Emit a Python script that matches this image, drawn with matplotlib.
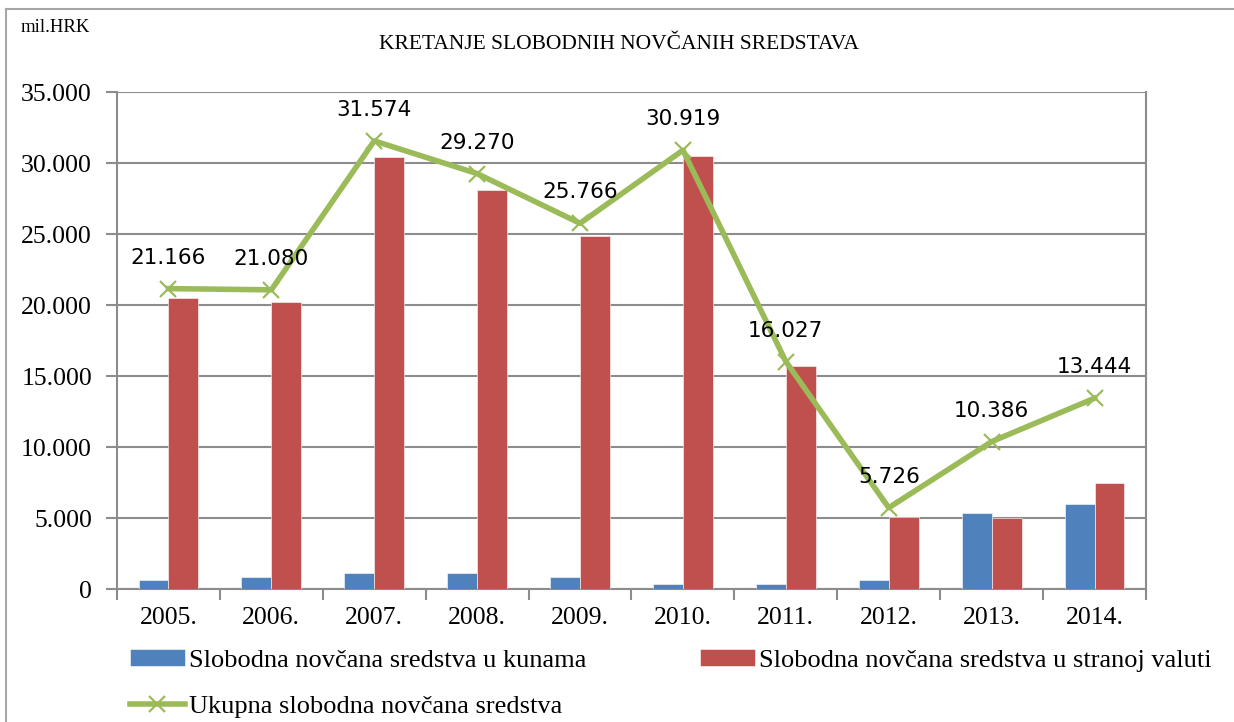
import matplotlib
matplotlib.use("Agg")
import matplotlib.pyplot as plt
import numpy as np
from matplotlib.lines import Line2D
from matplotlib.ticker import FuncFormatter, FixedLocator

years = ["2005.", "2006.", "2007.", "2008.", "2009.", "2010.", "2011.", "2012.", "2013.", "2014."]
kune = [640, 850, 1150, 1150, 870, 380, 320, 620, 5380, 5970]
strana = [20526, 20230, 30424, 28120, 24896, 30539, 15707, 5106, 5006, 7474]
ukupno = [21166, 21080, 31574, 29270, 25766, 30919, 16027, 5726, 10386, 13444]

blue = "#4F81BD"
red = "#C0504D"
green = "#9BBB59"
grid_c = "#8C8C8C"
serif = "Liberation Serif"

fig = plt.figure(figsize=(12.34, 7.22), dpi=100)
ax = fig.add_axes([0.0948, 0.1842, 0.8339, 0.688])

x = np.arange(len(years))
w = 0.29
ax.bar(x - w / 2, kune, w, color=blue, edgecolor="white", linewidth=0.4, zorder=3,
       label="Slobodna novčana sredstva u kunama")
ax.bar(x + w / 2, strana, w, color=red, edgecolor="white", linewidth=0.4, zorder=3,
       label="Slobodna novčana sredstva u stranoj valuti")
ax.plot(x, ukupno, color=green, lw=4, marker="x", ms=12, mew=1.6, zorder=4,
        label="Ukupna slobodna novčana sredstva")

for xi, v in zip(x, ukupno):
    ax.annotate(f"{v/1000:.3f}", (xi, v), xytext=(0, 15), textcoords="offset points",
                ha="center", va="bottom", fontsize=15.5, family="DejaVu Sans", zorder=5)

ax.set_xlim(-0.5, len(years) - 0.5)
ax.set_ylim(0, 35000)
ax.set_yticks(np.arange(0, 35001, 5000))
ax.yaxis.set_major_formatter(FuncFormatter(lambda v, p: "0" if v == 0 else f"{v/1000:.3f}"))
ax.set_xticks(x)
ax.set_xticklabels(years)
ax.xaxis.set_minor_locator(FixedLocator(np.arange(-0.5, len(years), 1)))
ax.tick_params(axis="x", which="major", length=0, pad=13)
ax.tick_params(axis="x", which="minor", length=8, width=1.5, color=grid_c)
ax.tick_params(axis="y", length=8, width=1.5, color=grid_c, pad=10)
for lab in ax.get_xticklabels() + ax.get_yticklabels():
    lab.set_fontfamily(serif)
    lab.set_fontsize(18.5)

ax.grid(axis="y", color=grid_c, lw=1.5, zorder=0)
for s in ["left", "bottom", "right"]:
    ax.spines[s].set_color(grid_c)
    ax.spines[s].set_linewidth(1.5)
ax.spines["top"].set_visible(False)

handles, labels = ax.get_legend_handles_labels()
order = [labels.index("Slobodna novčana sredstva u kunama"),
         labels.index("Ukupna slobodna novčana sredstva"),
         labels.index("Slobodna novčana sredstva u stranoj valuti")]
fig.legend([handles[i] for i in order], [labels[i] for i in order],
           loc="upper left", bbox_to_anchor=(0.105, 0.101), ncol=2, frameon=False,
           prop={"family": serif, "size": 19}, handlelength=2.1, handleheight=0.6,
           handletextpad=0.15, columnspacing=4.3, labelspacing=0.9,
           borderaxespad=0, borderpad=0)

fig.text(0.502, 0.938, "KRETANJE SLOBODNIH NOVČANIH SREDSTAVA", ha="center", va="center",
         fontsize=15.5, family=serif)
fig.text(0.017, 0.962, "mil.HRK", ha="left", va="center", fontsize=13.5, family=serif)

# chart-area border (only left and top edges are visible in the crop)
fig.add_artist(Line2D([0.005, 0.005], [0.0, 0.988], transform=fig.transFigure,
                      color="#A6A6A6", lw=1.5))
fig.add_artist(Line2D([0.005, 1.0], [0.988, 0.988], transform=fig.transFigure,
                      color="#A6A6A6", lw=1.5))

fig.savefig("out.png", dpi=100)
